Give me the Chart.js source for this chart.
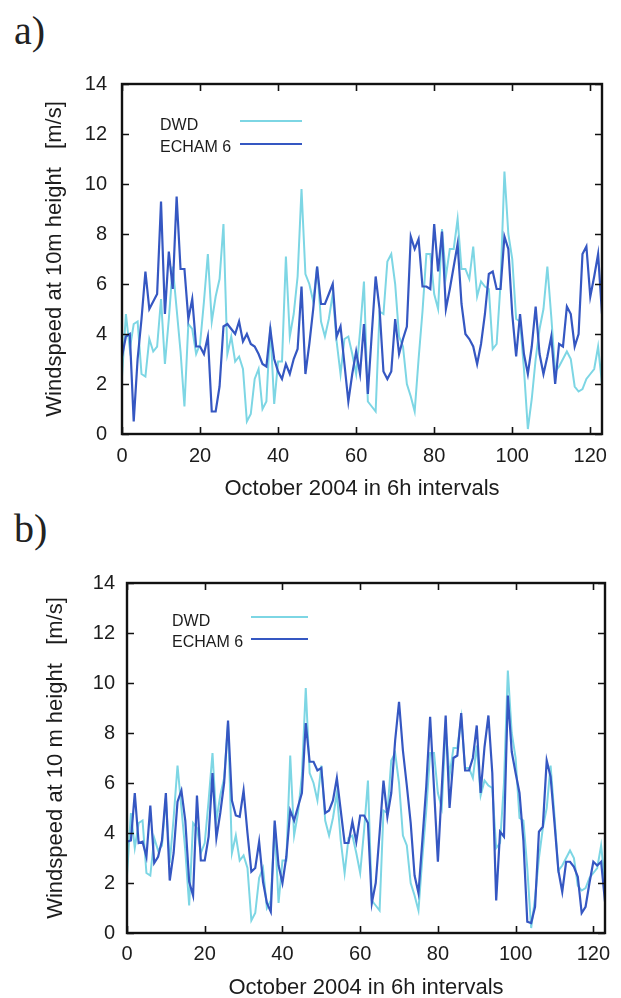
<!DOCTYPE html>
<html>
<head>
<meta charset="utf-8">
<script src="https://cdn.jsdelivr.net/npm/chart.js@4.4.1/dist/chart.umd.min.js"></script>
<style>
  html, body { margin: 0; padding: 0; background: #fff; }
  body { width: 621px; height: 998px; position: relative; overflow: hidden; }
  .panel { position: absolute; left: 0; width: 621px; height: 500px; }
  .tag { position: absolute; left: 14px; font-family: "Liberation Serif", serif; font-size: 40px; line-height: 1; color: #222; }
</style>
</head>
<body>
<div class="tag" style="top:11px">a)</div>
<div class="panel" style="top:0"><canvas id="chartA" width="621" height="500"></canvas></div>
<div class="tag" style="top:509px">b)</div>
<div class="panel" style="top:498px"><canvas id="chartB" width="621" height="500"></canvas></div>

<script>
// 6-hourly wind speed at 10 m, October 2004 [m/s]
const dwd = [
  2.3, 4.8, 3.4, 4.4, 4.5, 2.4, 2.3, 3.8, 3.3, 3.5,
  5.4, 2.8, 4.6, 6.7, 5.0, 3.3, 1.1, 4.4, 4.2, 3.2,
  3.6, 5.3, 7.2, 4.5, 5.5, 6.2, 8.4, 3.2, 3.9, 2.9,
  3.1, 2.6, 0.5, 0.8, 2.2, 2.6, 1.0, 1.3, 4.3, 1.2,
  2.9, 2.9, 7.1, 3.9, 4.8, 6.3, 9.8, 6.4, 6.0, 5.3,
  6.7, 4.5, 3.9, 4.6, 5.6, 3.7, 2.4, 3.8, 3.9, 3.2,
  2.4, 4.1, 6.1, 1.3, 1.1, 0.9, 4.9, 4.8, 6.9, 7.2,
  6.0, 3.9, 3.5, 2.0, 1.5, 0.9, 3.0, 4.9, 7.2, 7.2,
  5.6, 5.0, 8.2, 6.3, 7.4, 7.4, 8.6, 6.6, 6.6, 6.2,
  7.5, 5.5, 6.1, 5.9, 5.8, 3.4, 3.6, 6.0, 10.5, 8.0,
  7.0, 4.6, 4.5, 2.6, 0.2, 1.4, 3.0, 4.2, 5.0, 6.7,
  4.7, 2.5, 2.7, 3.0, 3.3, 3.0, 1.9, 1.7, 1.8, 2.2,
  2.4, 2.6, 3.5, 2.0
]

const echamA = [
  3.1, 3.9, 4.0, 0.5, 3.0, 4.6, 6.5, 5.0, 5.3, 5.6,
  9.3, 4.8, 7.3, 5.8, 9.5, 6.6, 6.6, 4.6, 5.4, 3.5,
  3.5, 3.2, 3.9, 0.9, 0.9, 1.9, 4.3, 4.4, 4.2, 4.0,
  4.5, 3.7, 4.0, 3.6, 3.5, 3.2, 2.8, 2.7, 4.2, 3.0,
  2.5, 2.2, 2.8, 2.4, 3.0, 3.4, 5.9, 2.4, 3.6, 5.0,
  6.7, 5.2, 5.2, 5.6, 6.0, 3.9, 4.3, 2.8, 1.3, 2.4,
  3.3, 2.4, 4.4, 1.6, 4.0, 6.3, 5.0, 2.5, 2.2, 2.5,
  4.6, 3.2, 3.8, 4.3, 7.9, 7.4, 7.8, 5.9, 5.9, 5.8,
  8.4, 6.5, 8.1, 5.0, 5.8, 6.7, 7.6, 5.2, 4.0, 3.8,
  3.5, 2.8, 3.6, 4.8, 6.4, 6.5, 5.8, 5.8, 7.9, 7.4,
  4.8, 3.1, 4.8, 3.2, 2.4, 3.5, 5.1, 3.2, 2.4, 3.1,
  3.9, 2.0, 3.6, 3.5, 5.1, 4.8, 3.5, 4.0, 7.2, 7.5,
  5.5, 6.3, 7.2, 4.8
]

const echamB = [
  3.65, 3.7, 5.6, 3.6, 3.65, 3.05, 5.1, 2.8, 3.05, 3.7,
  5.6, 2.1, 3.2, 5.25, 5.7, 4.5, 2.05, 1.5, 5.5, 2.9,
  2.9, 3.85, 6.4, 3.8, 4.8, 6.0, 8.5, 5.3, 4.7, 4.65,
  5.7, 4.0, 2.45, 2.6, 3.65, 2.05, 1.2, 0.85, 4.5, 2.7,
  2.0, 3.05, 4.9, 4.5, 5.05, 5.6, 8.4, 6.85, 6.85, 6.5,
  6.6, 4.8, 4.9, 5.3, 6.2, 4.9, 3.6, 3.6, 4.45, 3.65,
  4.7, 4.7, 4.4, 1.2, 2.0, 4.0, 6.1, 4.65, 5.6, 7.7,
  9.25, 7.3, 5.9, 4.4, 2.3, 1.6, 3.7, 5.85, 8.65, 5.8,
  2.85, 5.8, 8.7, 5.0, 7.0, 7.1, 8.8, 6.5, 6.5, 7.0,
  8.3, 5.6, 7.45, 8.7, 6.4, 1.3, 4.05, 3.85, 9.5, 7.25,
  6.4, 5.6, 3.7, 0.45, 0.4, 1.05, 4.05, 4.25, 6.9, 6.25,
  4.4, 2.5, 1.65, 2.85, 2.85, 2.65, 2.25, 0.8, 1.05, 2.0,
  2.85, 2.7, 2.85, 1.25
]

const steps = dwd.map((_, i) => i)
const xTitle = 'October 2004 in 6h intervals'

const LIGHT = '#7dd6e4'
const DARK = '#3557c2'
const FONT = '"Liberation Sans", Arial, sans-serif'
const INK = '#1c1c1c'

// gnuplot style box with inward ticks on all four sides
const frame = {
  id: 'frame',
  afterDatasetsDraw(chart) {
    const { ctx, chartArea: a, scales } = chart
    const len = 7
    ctx.save()
    ctx.strokeStyle = '#111'
    ctx.lineWidth = 1.6
    ctx.beginPath()
    scales.x.ticks.forEach(t => {
      const px = Math.round(scales.x.getPixelForValue(t.value)) + 0.5
      ctx.moveTo(px, a.bottom); ctx.lineTo(px, a.bottom - len)
      ctx.moveTo(px, a.top); ctx.lineTo(px, a.top + len)
    })
    scales.y.ticks.forEach(t => {
      const py = Math.round(scales.y.getPixelForValue(t.value)) + 0.5
      ctx.moveTo(a.left, py); ctx.lineTo(a.left + len, py)
      ctx.moveTo(a.right, py); ctx.lineTo(a.right - len, py)
    })
    ctx.stroke()
    ctx.lineWidth = 2.4
    ctx.strokeRect(a.left, a.top, a.right - a.left, a.bottom - a.top)
    ctx.restore()
  }
}

// key drawn as "label  ——" like the original
const keyBox = {
  id: 'keyBox',
  afterDraw(chart, args, opts) {
    const { ctx, chartArea: a } = chart
    ctx.save()
    ctx.font = '16px ' + FONT
    ctx.fillStyle = INK
    ctx.textBaseline = 'alphabetic'
    opts.rows.forEach((row, i) => {
      const ds = chart.data.datasets[i]
      ctx.fillText(ds.label, a.left + opts.textX, a.top + row.base)
      ctx.strokeStyle = ds.borderColor
      ctx.lineWidth = ds.borderWidth
      ctx.beginPath()
      ctx.moveTo(a.left + opts.lineX0, a.top + row.line)
      ctx.lineTo(a.left + opts.lineX1, a.top + row.line)
      ctx.stroke()
    })
    ctx.restore()
  }
}

function makeChart(id, echam, yTitle, cfg) {
  return new Chart(document.getElementById(id), {
    type: 'line',
    data: {
      labels: steps,
      datasets: [
        { label: 'DWD', data: dwd, borderColor: LIGHT, borderWidth: 2, pointRadius: 0, tension: 0, order: 2 },
        { label: 'ECHAM 6', data: echam, borderColor: DARK, borderWidth: 2.2, pointRadius: 0, tension: 0, order: 1 }
      ]
    },
    options: {
      responsive: false,
      animation: false,
      layout: { padding: { top: cfg.top, right: cfg.right, left: 0, bottom: 0 } },
      plugins: {
        legend: { display: false },
        tooltip: { enabled: false },
        keyBox: cfg.key
      },
      scales: {
        x: {
          type: 'linear', min: 0, max: 123,
          grid: { display: false, drawTicks: false },
          border: { display: false },
          ticks: { stepSize: 20, includeBounds: false, padding: cfg.xPad, color: INK, font: { family: FONT, size: 20 } },
          title: { display: true, text: xTitle, color: INK, font: { family: FONT, size: 22 }, padding: { top: 0, bottom: cfg.xTitlePad } },
          afterFit: s => { s.height = cfg.xh }
        },
        y: {
          min: 0, max: 14,
          grid: { display: false, drawTicks: false },
          border: { display: false },
          ticks: { stepSize: 2, padding: cfg.yPad, color: INK, font: { family: FONT, size: 20 } },
          title: { display: true, text: yTitle, color: INK, font: { family: FONT, size: 22 }, padding: { top: cfg.yTitlePad, bottom: 0 } },
          afterFit: s => { s.width = cfg.yw }
        }
      }
    },
    plugins: [frame, keyBox]
  })
}

makeChart('chartA', echamA, 'Windspeed at 10m height   [m/s]', {
  top: 84, right: 19, yw: 122, xh: 66, xPad: 10, yPad: 15, yTitlePad: 42, xTitlePad: -2,
  key: { textX: 38, lineX0: 118, lineX1: 180, rows: [{ base: 46, line: 37 }, { base: 68, line: 60 }] }
})

makeChart('chartB', echamB, 'Windspeed at 10 m height   [m/s]', {
  top: 85, right: 16, yw: 127, xh: 65, xPad: 9, yPad: 12, yTitlePad: 43, xTitlePad: -3,
  key: { textX: 45, lineX0: 124, lineX1: 181, rows: [{ base: 43, line: 34 }, { base: 64, line: 56 }] }
})
</script>
</body>
</html>
